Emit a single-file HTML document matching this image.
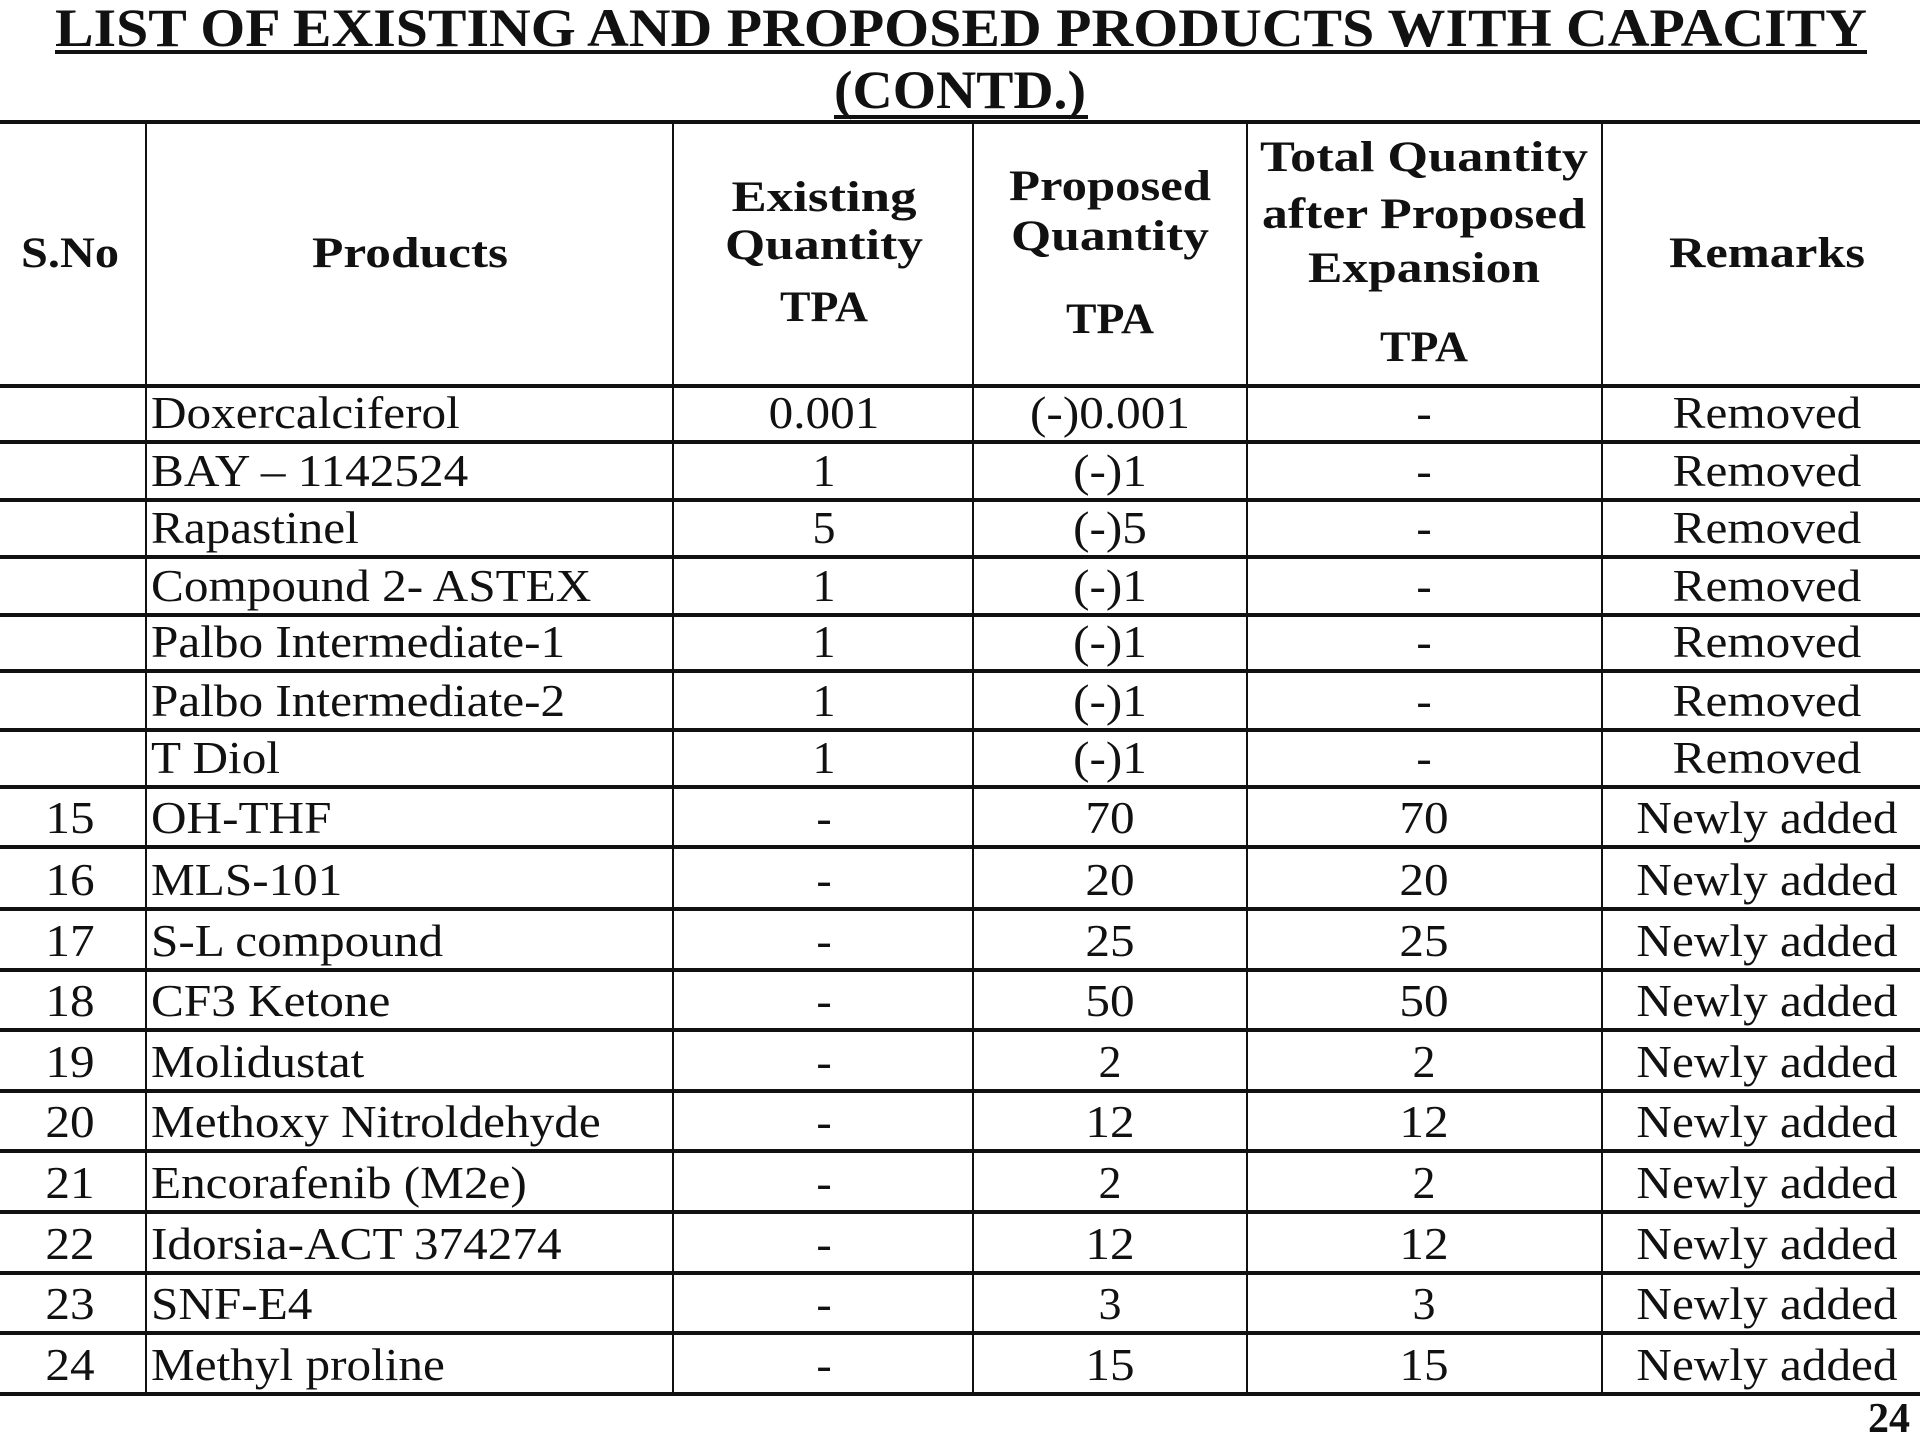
<!DOCTYPE html>
<html><head><meta charset="utf-8">
<style>
html,body{margin:0;padding:0;background:#fff;}
svg{display:block;}
text{font-family:"Liberation Serif",serif;fill:#111;}
.h{font-weight:bold;}
</style></head>
<body>
<svg id="s" width="1920" height="1440" viewBox="0 0 1920 1440">
<text class="h" x="961" y="46" font-size="54" text-anchor="middle" textLength="1812" lengthAdjust="spacingAndGlyphs">LIST OF EXISTING AND PROPOSED PRODUCTS WITH CAPACITY</text>
<rect x="55" y="50" width="1812" height="4" fill="#111"/>
<text class="h" x="960" y="108" font-size="54" text-anchor="middle" textLength="252" lengthAdjust="spacingAndGlyphs">(CONTD.)</text>
<rect x="834" y="115" width="254" height="4" fill="#111"/>
<g id="hdr">
<text class="h" x="70" y="267" font-size="43" text-anchor="middle" textLength="98" lengthAdjust="spacingAndGlyphs">S.No</text>
<text class="h" x="410" y="267" font-size="43" text-anchor="middle" textLength="196" lengthAdjust="spacingAndGlyphs">Products</text>
<text class="h" x="824" y="211" font-size="43" text-anchor="middle" textLength="185" lengthAdjust="spacingAndGlyphs">Existing</text>
<text class="h" x="824" y="259" font-size="43" text-anchor="middle" textLength="198" lengthAdjust="spacingAndGlyphs">Quantity</text>
<text class="h" x="824" y="321" font-size="43" text-anchor="middle" textLength="88" lengthAdjust="spacingAndGlyphs">TPA</text>
<text class="h" x="1110" y="200" font-size="43" text-anchor="middle" textLength="202" lengthAdjust="spacingAndGlyphs">Proposed</text>
<text class="h" x="1110" y="250" font-size="43" text-anchor="middle" textLength="198" lengthAdjust="spacingAndGlyphs">Quantity</text>
<text class="h" x="1110" y="333" font-size="43" text-anchor="middle" textLength="88" lengthAdjust="spacingAndGlyphs">TPA</text>
<text class="h" x="1424" y="171" font-size="43" text-anchor="middle" textLength="328" lengthAdjust="spacingAndGlyphs">Total Quantity</text>
<text class="h" x="1424" y="228" font-size="43" text-anchor="middle" textLength="324" lengthAdjust="spacingAndGlyphs">after Proposed</text>
<text class="h" x="1424" y="282" font-size="43" text-anchor="middle" textLength="232" lengthAdjust="spacingAndGlyphs">Expansion</text>
<text class="h" x="1424" y="361" font-size="43" text-anchor="middle" textLength="88" lengthAdjust="spacingAndGlyphs">TPA</text>
<text class="h" x="1767" y="267" font-size="43" text-anchor="middle" textLength="196" lengthAdjust="spacingAndGlyphs">Remarks</text>
</g>
<g id="body"></g>
<g id="grid"></g>
<text class="h" x="1910" y="1432" font-size="42" text-anchor="end">24</text>
</svg>
<script>
const serials = ["","","","","","","","15","16","17","18","19","20","21","22","23","24"];
const products = ["Doxercalciferol","BAY – 1142524","Rapastinel","Compound 2- ASTEX","Palbo Intermediate-1","Palbo Intermediate-2","T Diol","OH-THF","MLS-101","S-L compound","CF3 Ketone","Molidustat","Methoxy Nitroldehyde","Encorafenib (M2e)","Idorsia-ACT 374274","SNF-E4","Methyl proline"];
const existing = ["0.001","1","5","1","1","1","1","-","-","-","-","-","-","-","-","-","-"];
const proposed = ["(-)0.001","(-)1","(-)5","(-)1","(-)1","(-)1","(-)1","70","20","25","50","2","12","2","12","3","15"];
const totals = ["-","-","-","-","-","-","-","70","20","25","50","2","12","2","12","3","15"];
const remarks = ["Removed","Removed","Removed","Removed","Removed","Removed","Removed","Newly added","Newly added","Newly added","Newly added","Newly added","Newly added","Newly added","Newly added","Newly added","Newly added"];
const rowLines = [386,442,500,557,615,671,730,787,847,909,970,1030,1091,1151,1212,1273,1333,1394];
const NS="http://www.w3.org/2000/svg";
const body=document.getElementById('body'), grid=document.getElementById('grid');
function t(x,y,anchor,str){const e=document.createElementNS(NS,'text');e.setAttribute('x',x);e.setAttribute('y',y);e.setAttribute('font-size','46');e.setAttribute('text-anchor',anchor);e.textContent=str;body.appendChild(e);
  if(str.length>1){const L=e.getComputedTextLength();e.setAttribute('textLength',(L*1.07).toFixed(1));e.setAttribute('lengthAdjust','spacingAndGlyphs');}
  return e;}
for(let i=0;i<products.length;i++){
  const y=rowLines[i+1]-14;
  let e;
  e=t(70,y,'middle',serials[i]);
  
  
  e=t(151,y,'start',products[i]);
  
  
  e=t(824,y,'middle',existing[i]);
  
  
  e=t(1110,y,'middle',proposed[i]);
  
  
  e=t(1424,y,'middle',totals[i]);
  
  
  e=t(1767,y,'middle',remarks[i]);
  
  
}
function r(x,y,w,h){const e=document.createElementNS(NS,'rect');e.setAttribute('x',x);e.setAttribute('y',y);e.setAttribute('width',w);e.setAttribute('height',h);e.setAttribute('fill','#111');grid.appendChild(e);return e;}
let g=r(0,120,1920,4);


rowLines.forEach(y=>{const e=r(0,y-2,1920,4);

});
[145,672,972,1246,1601].forEach(x=>{const e=r(x,122,2,1272);

});
</script>
</body></html>
